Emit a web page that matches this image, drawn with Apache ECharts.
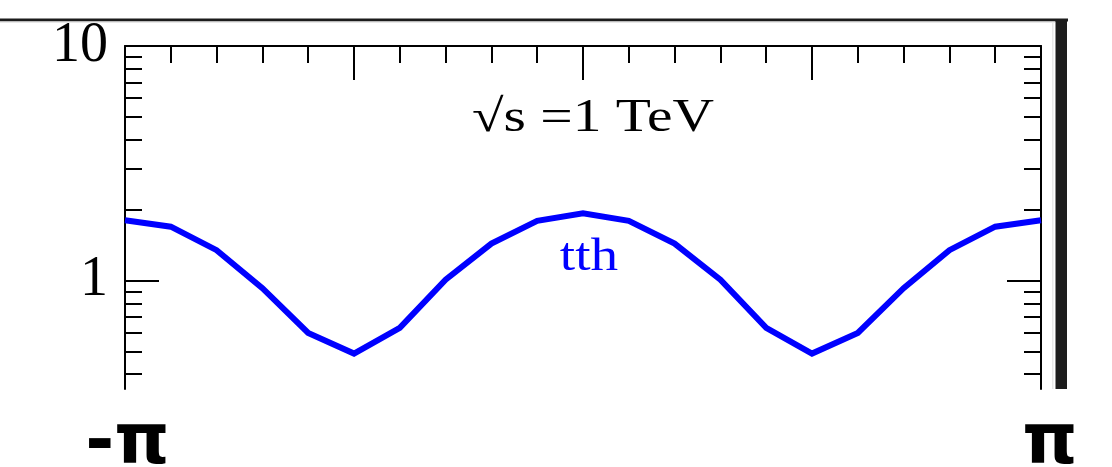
<!DOCTYPE html>
<html>
<head>
<meta charset="utf-8">
<script src="https://cdn.jsdelivr.net/npm/echarts@6/dist/echarts.min.js"></script>
<style>
  html, body { margin: 0; padding: 0; background: #fff; }
  #chart { width: 1112px; height: 467px; }
</style>
</head>
<body>
<div id="chart"></div>
<script>
// Azimuthal angle, in units of pi
const phiOverPi = [-1.0, -0.9, -0.8, -0.7, -0.6, -0.5, -0.4, -0.3, -0.2, -0.1, 0.0,
                   0.1, 0.2, 0.3, 0.4, 0.5, 0.6, 0.7, 0.8, 0.9, 1.0];
// tth curve values
const tthValues = [1.81, 1.70, 1.35, 0.93, 0.60, 0.49, 0.63, 1.01, 1.44, 1.80, 1.94,
                   1.80, 1.44, 1.01, 0.63, 0.49, 0.60, 0.93, 1.35, 1.70, 1.81];
// Axis ticks
const yMajorTicks = [1, 10];
const yMinorTicks = [0.4, 0.5, 0.6, 0.7, 0.8, 0.9, 2, 3, 4, 5, 6, 7, 8, 9];
const xTickLabels = { '-1': '{l|-π}', '1': '{r|π}' };
const yMin = 0.346, yMax = 10;

const seriesData = phiOverPi.map((p, i) => [p, tthValues[i]]);

const chart = echarts.init(document.getElementById('chart'), null, { renderer: 'canvas' });

const axisLine = { show: true, onZero: false, lineStyle: { color: '#000', width: 2 } };
const serif = 'Liberation Serif, Times New Roman, serif';

function logAxis(position, withLabels, ticks, len, lineShown) {
  return {
    type: 'log', logBase: 10, min: yMin, max: yMax, position: position,
    axisLine: lineShown ? axisLine : { show: false, onZero: false },
    axisTick: { show: true, inside: true, length: len, customValues: ticks,
                lineStyle: { color: '#000', width: 2 } },
    axisLabel: withLabels ? {
      show: true, customValues: yMajorTicks, color: '#000', fontFamily: serif,
      fontSize: 56, margin: 17, formatter: v => String(Math.round(v))
    } : { show: false },
    splitLine: { show: false }
  };
}

chart.setOption({
  animation: false,
  backgroundColor: '#fff',
  grid: { left: 125, right: 71, top: 46, bottom: 78, containLabel: false, outerBoundsMode: 'none' },
  xAxis: [
    {
      type: 'value', position: 'bottom', min: -1, max: 1, interval: 1,
      axisLine: { show: false, onZero: false }, axisTick: { show: false }, splitLine: { show: false },
      axisLabel: {
        show: true, margin: 21, color: '#000',
        fontFamily: 'DejaVu Sans', fontWeight: 'bold', fontSize: 70,
        formatter: v => xTickLabels[String(v)] || '',
        rich: {
          l: { fontFamily: 'DejaVu Sans', fontWeight: 'bold', fontSize: 70, color: '#000', padding: [0, 0, 0, 5] },
          r: { fontFamily: 'DejaVu Sans', fontWeight: 'bold', fontSize: 70, color: '#000', padding: [0, 0, 0, 18] }
        }
      }
    },
    {
      type: 'value', position: 'top', min: -1, max: 1, interval: 0.5,
      axisLine: axisLine,
      axisTick: { show: true, inside: true, length: 34, lineStyle: { color: '#000', width: 2 } },
      minorTick: { show: true, splitNumber: 5, length: 17, lineStyle: { color: '#000', width: 2 } },
      axisLabel: { show: false }, splitLine: { show: false }
    }
  ],
  yAxis: [
    logAxis('left', true, yMajorTicks, 34, true),
    logAxis('right', false, yMajorTicks, 34, true),
    logAxis('left', false, yMinorTicks, 17, false),
    logAxis('right', false, yMinorTicks, 17, false)
  ],
  series: [
    {
      name: 'tth', type: 'line', xAxisIndex: 0, yAxisIndex: 0,
      data: seriesData, showSymbol: false, symbol: 'none',
      lineStyle: { color: '#0000ff', width: 6, join: 'miter' }
    }
  ],
  graphic: [
    // frame strips along the top and right edges
    { type: 'rect', shape: { x: 0, y: 18.5, width: 1068, height: 3 }, style: { fill: '#1c1c1c' } },
    { type: 'rect', shape: { x: 0, y: 21.5, width: 1055, height: 1.5 }, style: { fill: '#e8e8e8' } },
    { type: 'rect', shape: { x: 1055.5, y: 19, width: 11.5, height: 370 }, style: { fill: '#1c1c1c' } },
    { type: 'rect', shape: { x: 1052, y: 22, width: 1.5, height: 367 }, style: { fill: '#e8e8e8' } },
    {
      type: 'text', x: 593, y: 119, scaleX: 1.25,
      style: { text: '√s =1 TeV', fill: '#000', font: '46px ' + serif,
               textAlign: 'center', textVerticalAlign: 'middle' }
    },
    {
      type: 'text', x: 589, y: 258, scaleX: 1.2,
      style: { text: 'tth', fill: '#0000ff', font: '46px ' + serif,
               textAlign: 'center', textVerticalAlign: 'middle' }
    }
  ]
});
</script>
</body>
</html>
